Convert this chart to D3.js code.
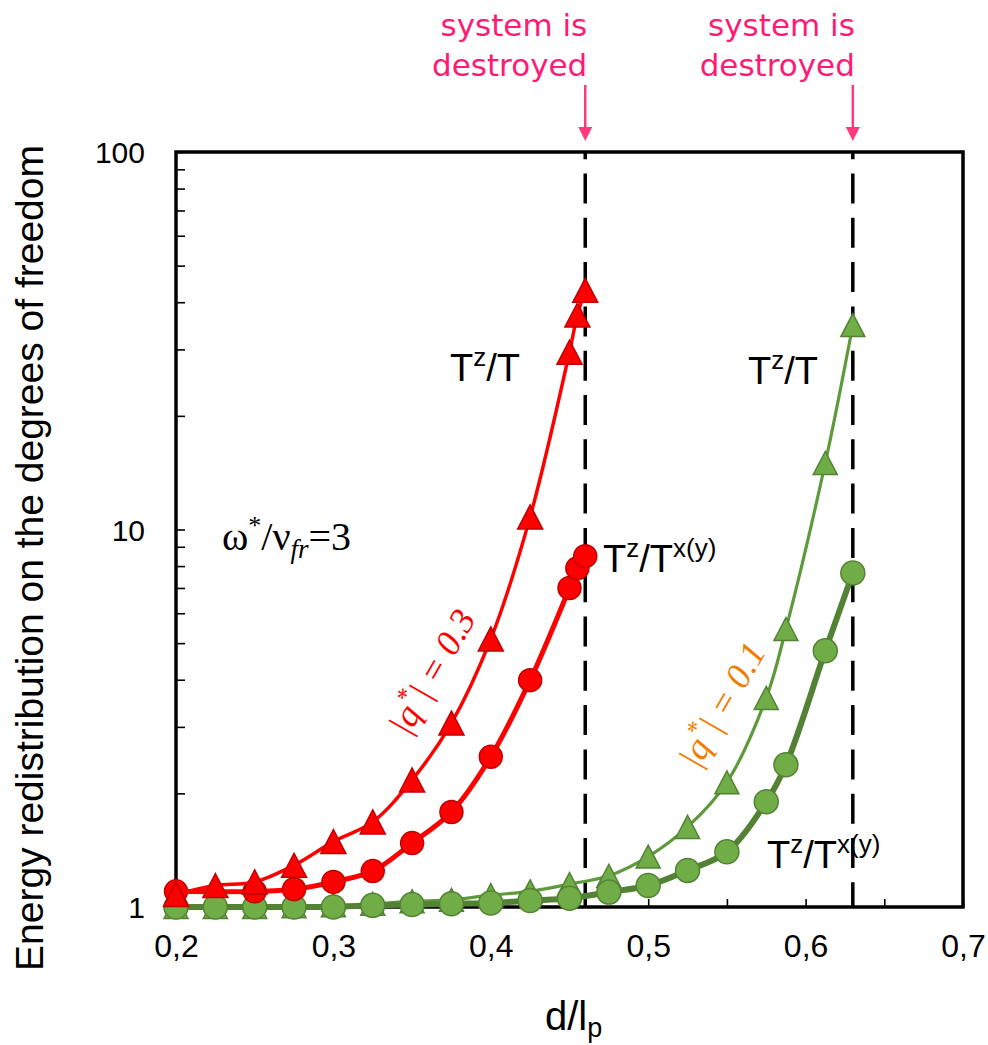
<!DOCTYPE html>
<html><head><meta charset="utf-8">
<script src="https://cdn.jsdelivr.net/npm/d3@7"></script>
<style>body{margin:0;background:#fff}svg{display:block}</style>
</head><body>
<svg id="c" width="988" height="1045"></svg>
<script>
// ---- data ----
const redTriX = [0.2,0.225,0.25,0.275,0.3,0.325,0.35,0.375,0.4,0.425,0.45,0.455,0.46];
const redTriY = [1.08,1.14,1.165,1.29,1.49,1.68,2.17,3.07,5.13,10.8,29.5,37,43];
const redCirX = [0.2,0.25,0.275,0.3,0.325,0.35,0.375,0.4,0.425,0.45,0.455,0.46];
const redCirY = [1.10,1.10,1.115,1.165,1.245,1.477,1.785,2.5,3.99,7.0,7.9,8.5];
const greenX = [0.2,0.225,0.25,0.275,0.3,0.325,0.35,0.375,0.4,0.425,0.45,0.475,0.5,0.525,0.55,0.575,0.5875,0.6125,0.63];
const greenTriY = [1.0,1.0,1.0,1.005,1.01,1.02,1.035,1.045,1.075,1.10,1.15,1.21,1.36,1.63,2.14,3.58,5.45,15.0,34.8];
const greenCirY = [1.0,1.0,1.0,1.0,1.0,1.01,1.015,1.02,1.025,1.04,1.055,1.095,1.14,1.25,1.40,1.90,2.38,4.77,7.67];
const destroyX = [0.46, 0.63];
const xTickVals = [0.2,0.25,0.3,0.35,0.4,0.45,0.5,0.55,0.6,0.65,0.7];
const xLabelVals = [0.2,0.3,0.4,0.5,0.6,0.7];
const yTickVals = [1,2,3,4,5,6,7,8,9,10,20,30,40,50,60,70,80,90,100];
const yLabelVals = [1,10,100];

const SANS = '"Liberation Sans"';
const SERIF = '"Liberation Serif"';
const PINKF = '"DejaVu Sans"';

const svg = d3.select("#c");
const L=176, R=963, T=152, B=907;
const x = d3.scaleLinear().domain([0.2,0.7]).range([L,R]);
const y = d3.scaleLog().domain([1,100]).range([B,T]);

// axes ticks
const xAxis = d3.axisBottom(x).tickValues(xTickVals).tickSize(-8).tickPadding(27)
  .tickFormat(d => xLabelVals.some(v=>Math.abs(v-d)<1e-9) ? d3.format(".1f")(d).replace(".",",") : "");
const gx = svg.append("g").attr("transform",`translate(0,${B})`).call(xAxis);
gx.select(".domain").remove();
gx.selectAll("line").attr("stroke","#000").attr("stroke-width",1.6);
gx.selectAll("text").style("font-family",SANS).style("font-size","32px").attr("fill","#000");

const yAxis = d3.axisLeft(y).tickValues(yTickVals).tickSize(-9).tickPadding(31)
  .tickFormat(d => yLabelVals.includes(d) ? String(d) : "");
const gy = svg.append("g").attr("transform",`translate(${L},0)`).call(yAxis);
gy.select(".domain").remove();
gy.selectAll("line").attr("stroke","#000").attr("stroke-width",1.6);
gy.selectAll("text").style("font-family",SANS).style("font-size","30px").attr("fill","#000").attr("dy","0.36em");

// frame
svg.append("rect").attr("x",L).attr("y",T).attr("width",R-L).attr("height",B-T)
  .attr("fill","none").attr("stroke","#000").attr("stroke-width",3.5);

// destroyed dashed lines
svg.selectAll(".dl").data(destroyX).enter().append("line")
  .attr("x1",d=>x(d)).attr("x2",d=>x(d)).attr("y1",T).attr("y2",B)
  .attr("stroke","#000").attr("stroke-width",3.5)
  .attr("stroke-dasharray","30,14.3").attr("stroke-dashoffset",22.8);

// series
const line = d3.line().curve(d3.curveCatmullRom.alpha(0.5)).x(d=>x(d[0])).y(d=>y(d[1]));
const tri = (w,h)=>`M0,${-h/2}L${w/2},${h/2}L${-w/2},${h/2}Z`;
function series(xs, ys, opt){
  const pts = xs.map((v,i)=>[v,ys[i]]);
  svg.append("path").datum(pts).attr("d",line).attr("fill","none")
    .attr("stroke",opt.line).attr("stroke-width",opt.lw);
  const g = svg.append("g");
  if(opt.shape==="tri"){
    g.selectAll("path").data(pts).enter().append("path")
      .attr("d",tri(opt.w,opt.h)).attr("transform",d=>`translate(${x(d[0])},${y(d[1])})`)
      .attr("fill",opt.fill).attr("stroke",opt.stroke).attr("stroke-width",1.5);
  } else {
    g.selectAll("circle").data(pts).enter().append("circle")
      .attr("cx",d=>x(d[0])).attr("cy",d=>y(d[1])).attr("r",opt.r)
      .attr("fill",opt.fill).attr("stroke",opt.stroke).attr("stroke-width",1.5);
  }
}
series(greenX, greenTriY, {shape:"tri", w:24, h:23, line:"#5e9a3c", lw:3.2, fill:"#70ad47", stroke:"#548235"});
series(greenX, greenCirY, {shape:"cir", r:12, line:"#548235", lw:6, fill:"#70ad47", stroke:"#548235"});
series(redCirX, redCirY, {shape:"cir", r:11.5, line:"#ff0000", lw:5, fill:"#ff0000", stroke:"#c00000"});
series(redTriX, redTriY, {shape:"tri", w:25, h:24, line:"#ff0000", lw:3.5, fill:"#ff0000", stroke:"#c00000"});

// labels T^z/T etc
function tlabel(px, py, sup2){
  const t = svg.append("text").style("font-family",SANS).style("font-size","38px")
    .attr("x",px).attr("y",py).attr("fill","#000");
  t.append("tspan").text("T");
  t.append("tspan").style("font-size","26px").attr("dy",-15).text("z");
  t.append("tspan").attr("dy",15).text("/T");
  if(sup2) t.append("tspan").style("font-size","26px").attr("dy",-15).text(sup2);
}
tlabel(450,381,null);
tlabel(748,384,null);
tlabel(603,572,"x(y)");
tlabel(767,868,"x(y)");

// omega label
const om = svg.append("text").style("font-family",SERIF).style("font-size","40px")
  .attr("x",222).attr("y",550).attr("fill","#000");
om.append("tspan").text("ω");
om.append("tspan").style("font-size","26px").attr("dy",-16).text("*");
om.append("tspan").attr("dy",16).text("/ν");
om.append("tspan").style("font-size","27px").style("font-style","italic").attr("dy",8).text("fr");
om.append("tspan").attr("dy",-8).text("=3");

// |q*| labels
function qlabel(cx, cy, val, color){
  const t = svg.append("text").style("font-family",SERIF).style("font-style","italic").style("font-size","36px")
    .attr("transform",`translate(${cx},${cy}) rotate(-60)`)
    .attr("text-anchor","middle").attr("dominant-baseline","central").attr("fill",color);
  t.append("tspan").text("|q");
  t.append("tspan").style("font-size","25px").attr("dy",-12).text("*");
  t.append("tspan").attr("dy",12).text("| = "+val);
}
qlabel(432,672,"0.3","#ff0000");
qlabel(722,705,"0.1","#f07d00");

// "system is destroyed" annotations
const pink = "#ff1a75";
destroyX.forEach(d=>{
  const xx = x(d);
  svg.append("text").style("font-family",PINKF).style("font-size","31px")
    .attr("x",xx+2).attr("y",36).attr("text-anchor","end").attr("fill",pink).text("system is");
  svg.append("text").style("font-family",PINKF).style("font-size","31px")
    .attr("x",xx+2).attr("y",76).attr("text-anchor","end").attr("fill",pink).text("destroyed");
  svg.append("line").attr("x1",xx).attr("x2",xx).attr("y1",85).attr("y2",130)
    .attr("stroke","#ff3a7c").attr("stroke-width",2.5);
  svg.append("path").attr("d",`M${xx-7},127L${xx+7},127L${xx},141Z`).attr("fill","#ff3a7c");
});

// axis titles
svg.append("text").style("font-family",SANS).style("font-size","39px")
  .attr("transform","translate(43,558) rotate(-90)").attr("text-anchor","middle").attr("fill","#000")
  .text("Energy redistribution on the degrees of freedom");
const xt = svg.append("text").style("font-family",SANS).style("font-size","40px")
  .attr("x",545).attr("y",1030).attr("fill","#000");
xt.append("tspan").text("d/l");
xt.append("tspan").style("font-size","27px").attr("dy",7).text("p");
</script>
</body></html>
